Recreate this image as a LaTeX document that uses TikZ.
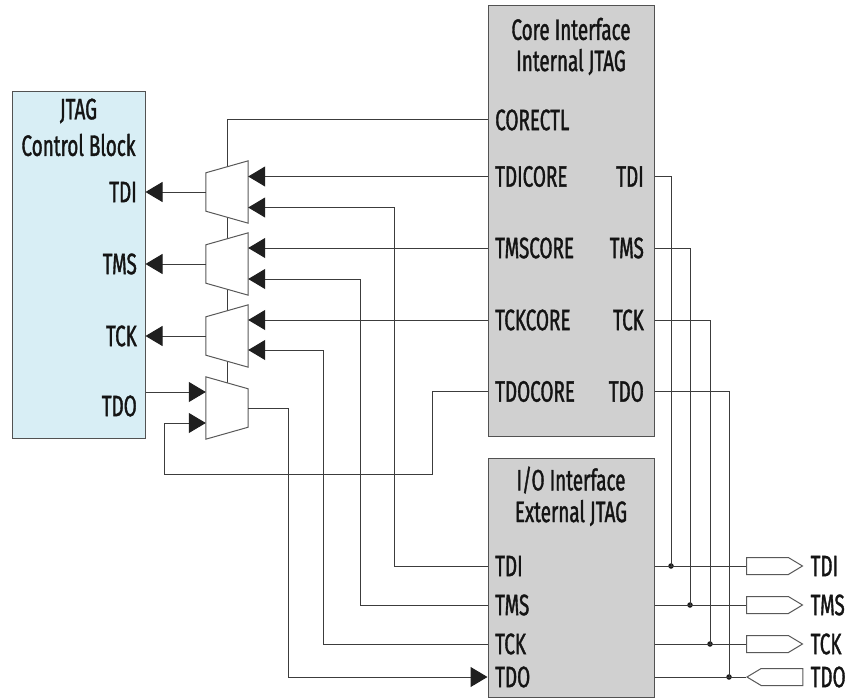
\documentclass[tikz,border=0pt]{standalone}
\usepackage{fontspec}
\setmainfont{Fira Sans}[FakeStretch=0.64,FakeBold=1.2]
\usetikzlibrary{arrows.meta,positioning,shapes.symbols}

\definecolor{ctrlblue}{HTML}{D8EEF5}
\definecolor{ifgray}{HTML}{D0D0D0}
\definecolor{wiregray}{HTML}{3C3C3C}

\tikzset{
  block/.style={draw=black!68, line width=1pt, rectangle, inner sep=0pt},
  wire/.style={draw=wiregray, line width=1pt},
  lbl/.style={inner sep=0pt, text=black!92},
  muxnode/.style={inner sep=0pt, minimum width=42pt, minimum height=62pt},
  muxbox/.style={draw=black!65, line width=1pt, fill=white},
  pin/.style={signal, draw=black!65, fill=white, line width=1pt, inner sep=0pt,
    minimum width=56pt, minimum height=17pt, signal pointer angle=62},
  dot/.style={circle, fill=black!90, inner sep=0pt, minimum size=5.5pt}
}

% mux with the wide side to the right / to the left
\newcommand{\muxwider}[1]{%
  \draw[muxbox] (#1.north east) -- (#1.south east) -- ([yshift=12pt]#1.south west)
    -- ([yshift=-12pt]#1.north west) -- cycle;}
\newcommand{\muxwidel}[1]{%
  \draw[muxbox] (#1.north west) -- (#1.south west) -- ([yshift=12pt]#1.south east)
    -- ([yshift=-12pt]#1.north east) -- cycle;}

\begin{document}
\begin{tikzpicture}[%
    x=1pt, y=-1pt,
    >={Triangle[length=17pt,width=20pt,color=black!88]},
    font=\fontsize{29.5}{32}\selectfont
  ]
  \useasboundingbox (0,0) rectangle (848,698);

  % blocks
  \node[block, fill=ctrlblue, minimum width=133pt, minimum height=346pt] (ctrl) at (78.5,265) {};
  \node[block, fill=ifgray, minimum width=166pt, minimum height=430pt] (core) at (571,221) {};
  \node[block, fill=ifgray, minimum width=166pt, minimum height=239pt] (iface) at (571,577.5) {};

  \node[lbl] (ctrl-t1) at (78.5,111) {JTAG};
  \node[lbl] (ctrl-t2) at (78.5,145) {Control Block};
  \node[lbl] (core-t1) at (571,29) {Core Interface};
  \node[lbl] (core-t2) at (571,62) {Internal JTAG};
  \node[lbl] (io-t1) at (571,480) {I/O Interface};
  \node[lbl] (io-t2) at (571,513) {External JTAG};

  % pin labels
  \node[lbl, anchor=east] (j-tdi) at (137,192) {TDI};
  \node[lbl, anchor=east] (j-tms) at (137,264) {TMS};
  \node[lbl, anchor=east] (j-tck) at (137,336) {TCK};
  \node[lbl, anchor=east] (j-tdo) at (137,406) {TDO};

  \node[lbl, anchor=west] (c-ctl) at (495,120) {CORECTL};
  \node[lbl, anchor=west] (c-tdicore) at (495,176.5) {TDICORE};
  \node[lbl, anchor=west] (c-tmscore) at (495,248) {TMSCORE};
  \node[lbl, anchor=west] (c-tckcore) at (495,320) {TCKCORE};
  \node[lbl, anchor=west] (c-tdocore) at (495,391.5) {TDOCORE};
  \node[lbl, anchor=east] (c-tdi) at (644,176.5) {TDI};
  \node[lbl, anchor=east] (c-tms) at (644,248) {TMS};
  \node[lbl, anchor=east] (c-tck) at (644,320) {TCK};
  \node[lbl, anchor=east] (c-tdo) at (644,391.5) {TDO};

  \node[lbl, anchor=west] (io-tdi) at (495,566) {TDI};
  \node[lbl, anchor=west] (io-tms) at (495,605) {TMS};
  \node[lbl, anchor=west] (io-tck) at (495,644) {TCK};
  \node[lbl, anchor=west] (io-tdo) at (495,677) {TDO};

  % muxes
  \node[muxnode] (m1) at (227,192) {};
  \node[muxnode] (m2) at (227,264) {};
  \node[muxnode] (m3) at (227,336) {};
  \node[muxnode] (m4) at (227,408) {};

  % select line (behind the muxes)
  \draw[wire] (core.west |- c-ctl) -| ([yshift=-6pt]m4.north);

  \muxwider{m1}
  \muxwider{m2}
  \muxwider{m3}
  \muxwidel{m4}

  \coordinate (m1a) at ([yshift=15.5pt]m1.east);
  \coordinate (m1b) at ([yshift=-15.5pt]m1.east);
  \coordinate (m2a) at ([yshift=16pt]m2.east);
  \coordinate (m2b) at ([yshift=-15pt]m2.east);
  \coordinate (m3a) at ([yshift=16pt]m3.east);
  \coordinate (m3b) at ([yshift=-14pt]m3.east);
  \coordinate (m4a) at ([yshift=16pt]m4.west);
  \coordinate (m4b) at ([yshift=-15pt]m4.west);

  \coordinate (col-tdi) at (394,0);
  \coordinate (col-tms) at (360,0);
  \coordinate (col-tck) at (323,0);
  \coordinate (col-tdo) at (288,408);
  \coordinate (loop-r) at (432,474);
  \coordinate (loop-l) at (164,474);

  % mux outputs
  \draw[wire,->] (m1.west) -- (ctrl.east |- m1.west);
  \draw[wire,->] (m2.west) -- (ctrl.east |- m2.west);
  \draw[wire,->] (m3.west) -- (ctrl.east |- m3.west);

  % core inputs
  \draw[wire,->] (core.west |- m1a) -- (m1a);
  \draw[wire,->] (core.west |- m2a) -- (m2a);
  \draw[wire,->] (core.west |- m3a) -- (m3a);

  % external inputs
  \draw[wire,->] (iface.west |- io-tdi) -| (col-tdi |- m1b) -- (m1b);
  \draw[wire,->] (iface.west |- io-tms) -| (col-tms |- m2b) -- (m2b);
  \draw[wire,->] (iface.west |- io-tck) -| (col-tck |- m3b) -- (m3b);

  % TDO path
  \draw[wire,->] (ctrl.east |- m4a) -- (m4a);
  \draw[wire,->] (core.west |- c-tdocore) -| (loop-r) -- (loop-l) |- (m4b);
  \draw[wire,->] (m4.east) -- (col-tdo) |- (iface.west |- io-tdo);

  % external pins
  \node[pin, signal to=east, anchor=west] (p-tdi) at (746,566) {};
  \node[pin, signal to=east, anchor=west] (p-tms) at (746,605) {};
  \node[pin, signal to=east, anchor=west] (p-tck) at (746,644) {};
  \node[pin, signal to=west, anchor=west] (p-tdo) at (746,677) {};
  \node[lbl, right=7pt of p-tdi] (p-tdi-l) {TDI};
  \node[lbl, right=7pt of p-tms] (p-tms-l) {TMS};
  \node[lbl, right=7pt of p-tck] (p-tck-l) {TCK};
  \node[lbl, right=7pt of p-tdo] (p-tdo-l) {TDO};

  \node[dot] (d-tdi) at (671,566) {};
  \node[dot] (d-tms) at (690,605) {};
  \node[dot] (d-tck) at (710,644) {};
  \node[dot] (d-tdo) at (729,677) {};

  \draw[wire] (core.east |- c-tdi) -| (d-tdi.center);
  \draw[wire] (core.east |- c-tms) -| (d-tms.center);
  \draw[wire] (core.east |- c-tck) -| (d-tck.center);
  \draw[wire] (core.east |- c-tdo) -| (d-tdo.center);
  \draw[wire] (iface.east |- io-tdi) -- (p-tdi.west);
  \draw[wire] (iface.east |- io-tms) -- (p-tms.west);
  \draw[wire] (iface.east |- io-tck) -- (p-tck.west);
  \draw[wire] (iface.east |- io-tdo) -- (p-tdo.west);

\end{tikzpicture}
\end{document}
